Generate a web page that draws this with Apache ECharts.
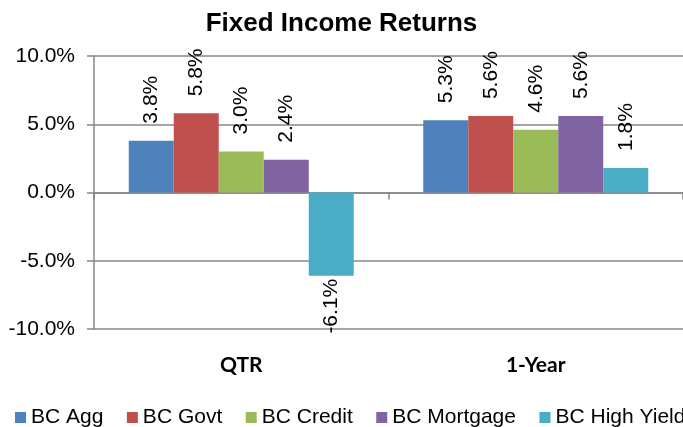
<!DOCTYPE html>
<html>
<head>
<meta charset="utf-8">
<style>
html, body { margin: 0; padding: 0; background: #fff; }
#chart { width: 683px; height: 427px; }
</style>
<script src="https://cdn.jsdelivr.net/npm/echarts@6/dist/echarts.min.js"></script>
</head>
<body>
<div id="chart"></div>
<script>
// data
var categories = ['QTR', '1-Year'];
var seriesNames = ['BC Agg', 'BC Govt', 'BC Credit', 'BC Mortgage', 'BC High Yield'];
var aggValues = [3.8, 5.3];
var govtValues = [5.8, 5.6];
var creditValues = [3.0, 4.6];
var mortgageValues = [2.4, 5.6];
var highYieldValues = [-6.1, 1.8];
var colors = ['#4F81BD', '#C0504D', '#9BBB59', '#8064A2', '#4BACC6'];

var FONT = "'Liberation Sans', Arial, sans-serif";
var gridColor = '#878787';

function pct(v) { return v.toFixed(1) + '%'; }

// labels sit above positive bars, below negative ones, turned 90deg
function makeData(values) {
    return values.map(function (v) {
        if (v < 0) {
            return { value: v, label: { position: 'bottom', align: 'right', distance: 3 } };
        }
        return v;
    });
}

var allValues = [aggValues, govtValues, creditValues, mortgageValues, highYieldValues];

var series = seriesNames.map(function (name, i) {
    return {
        name: name,
        type: 'bar',
        xAxisIndex: 0,
        barWidth: 45,
        barGap: '0%',
        data: makeData(allValues[i]),
        itemStyle: { color: colors[i] },
        label: {
            show: true,
            position: 'top',
            distance: 17,
            rotate: 90,
            align: 'left',
            verticalAlign: 'middle',
            fontFamily: FONT,
            fontSize: 21,
            color: '#000',
            formatter: function (p) { return pct(p.value); }
        }
    };
});

var chart = echarts.init(document.getElementById('chart'));
chart.setOption({
    animation: false,
    title: {
        text: 'Fixed Income Returns',
        left: 'center',
        top: 11,
        padding: 0,
        textStyle: { fontFamily: FONT, fontSize: 26, fontWeight: 'bold', color: '#000' }
    },
    legend: {
        data: seriesNames,
        left: 10,
        width: 720,
        top: 402,
        itemWidth: 11,
        itemHeight: 11,
        itemGap: 23.5,
        icon: 'rect',
        textStyle: { fontFamily: FONT, fontSize: 21, color: '#000' }
    },
    grid: { left: 94, right: 0, top: 56, bottom: 98, containLabel: false },
    xAxis: [{
        type: 'category',
        data: categories,
        axisLine: { onZero: true, lineStyle: { color: gridColor, width: 1.5 } },
        axisTick: { show: true, length: 7, lineStyle: { color: gridColor, width: 1.5 } },
        axisLabel: { show: false },
        splitLine: { show: false }
    }, {
        type: 'category',
        data: categories,
        position: 'bottom',
        axisLine: { show: false, onZero: false },
        axisTick: { show: false },
        axisLabel: {
            margin: 26,
            fontFamily: "Lato, 'Open Sans', sans-serif",
            fontSize: 21,
            fontWeight: 'bold',
            color: '#000'
        }
    }],
    yAxis: {
        type: 'value',
        min: -10,
        max: 10,
        interval: 5,
        axisLine: { show: true, lineStyle: { color: gridColor, width: 1.5 } },
        axisTick: { show: true, length: 7, lineStyle: { color: gridColor, width: 1.5 } },
        splitLine: { show: true, lineStyle: { color: gridColor, width: 1.5 } },
        axisLabel: {
            margin: 19,
            fontFamily: FONT,
            fontSize: 21,
            color: '#000',
            formatter: pct
        }
    },
    series: series
});
</script>
</body>
</html>
